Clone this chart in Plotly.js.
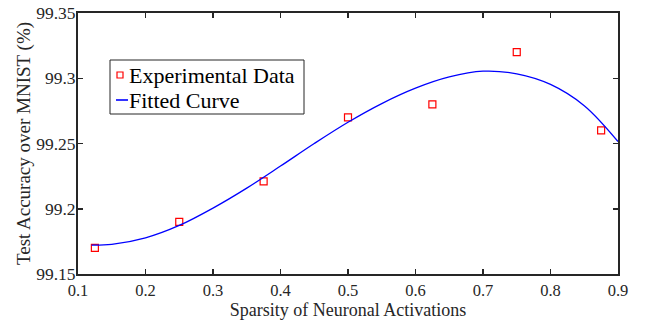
<!DOCTYPE html>
<html><head><meta charset="utf-8">
<script src="https://cdn.plot.ly/plotly-3.0.1.min.js"></script>
<style>body{margin:0;padding:0;background:#fff}#chart{width:648px;height:324px}</style>
</head><body><div id="chart"></div>
<script>
// Experimental data
const dataX = [0.125, 0.25, 0.375, 0.5, 0.625, 0.75, 0.875];
const dataY = [99.17, 99.19, 99.221, 99.27, 99.28, 99.32, 99.26];
// Fitted curve
const fitX = [0.12, 0.15, 0.20, 0.25, 0.30, 0.35, 0.40, 0.45, 0.50, 0.55, 0.60, 0.65, 0.70, 0.75, 0.80, 0.85, 0.90];
const fitY = [99.1721, 99.1727, 99.1777, 99.1872, 99.2005, 99.2158, 99.2327, 99.2500, 99.2663, 99.2806, 99.2924, 99.3010, 99.3054, 99.3034, 99.2953, 99.2790, 99.2515];
const xTicks = [0.1, 0.2, 0.3, 0.4, 0.5, 0.6, 0.7, 0.8, 0.9];
const xTickText = ["0.1", "0.2", "0.3", "0.4", "0.5", "0.6", "0.7", "0.8", "0.9"];
const yTicks = [99.15, 99.2, 99.25, 99.3, 99.35];
const yTickText = ["99.15", "99.2", "99.25", "99.3", "99.35"];
const legendLabels = ["Experimental Data", "Fitted Curve"];

const font = "Liberation Serif, Times New Roman, serif";
const axisCol = "#262626";
const markerCol = "#ff0000";
const lineCol = "#0000ff";

const traces = [
  {x: dataX, y: dataY, mode: "markers", type: "scatter", name: legendLabels[0], showlegend: false,
   marker: {symbol: "square-open", size: 7, color: markerCol, line: {width: 1.2, color: markerCol}}},
  {x: fitX, y: fitY, mode: "lines", type: "scatter", name: legendLabels[1], showlegend: false,
   line: {color: lineCol, width: 1.3, shape: "spline", smoothing: 1}}
];

const axisCommon = {
  showgrid: false, zeroline: false, showline: true, mirror: "ticks",
  linecolor: axisCol, linewidth: 2, ticks: "inside", ticklen: 5, tickwidth: 1.5, tickcolor: axisCol
};

// Legend drawn in paper coordinates (box, symbols, labels)
const px2x = p => (p - 78) / 540;
const px2y = p => (274 - p) / 261;
const shapes = [
  {type: "rect", xref: "paper", yref: "paper", x0: px2x(110), x1: px2x(304), y0: px2y(114), y1: px2y(60),
   line: {color: axisCol, width: 1}, fillcolor: "#fff", layer: "above"},
  {type: "rect", xref: "paper", yref: "paper", x0: px2x(117), x1: px2x(123), y0: px2y(78), y1: px2y(72),
   line: {color: markerCol, width: 1.2}, fillcolor: "rgba(0,0,0,0)", layer: "above"},
  {type: "line", xref: "paper", yref: "paper", x0: px2x(116), x1: px2x(128), y0: px2y(100), y1: px2y(100),
   line: {color: lineCol, width: 1.6}, layer: "above"}
];
const annotations = [
  {xref: "paper", yref: "paper", x: px2x(127), y: px2y(75.5), xanchor: "left", yanchor: "middle", showarrow: false,
   text: legendLabels[0], font: {family: font, size: 22, color: "#000"}},
  {xref: "paper", yref: "paper", x: px2x(127), y: px2y(100.5), xanchor: "left", yanchor: "middle", showarrow: false,
   text: legendLabels[1], font: {family: font, size: 22, color: "#000"}}
];

const layout = {
  width: 648, height: 324,
  margin: {l: 78, r: 30, t: 13, b: 50},
  paper_bgcolor: "#fff", plot_bgcolor: "#fff",
  showlegend: false,
  shapes: shapes, annotations: annotations,
  xaxis: Object.assign({}, axisCommon, {range: [0.1, 0.9], tickvals: xTicks, ticktext: xTickText,
    tickfont: {family: font, size: 16.5, color: "#262626"},
    title: {text: "Sparsity of Neuronal Activations", font: {family: font, size: 18, color: "#262626"}, standoff: 3}}),
  yaxis: Object.assign({}, axisCommon, {range: [99.15, 99.35], tickvals: yTicks, ticktext: yTickText,
    tickfont: {family: font, size: 17.5, color: "#262626"}, ticklabelstandoff: -3,
    title: {text: "Test Accuracy over MNIST (%)", font: {family: font, size: 19, color: "#262626"}, standoff: 0}})
};

Plotly.newPlot("chart", traces, layout, {displayModeBar: false, staticPlot: true});
</script></body></html>
